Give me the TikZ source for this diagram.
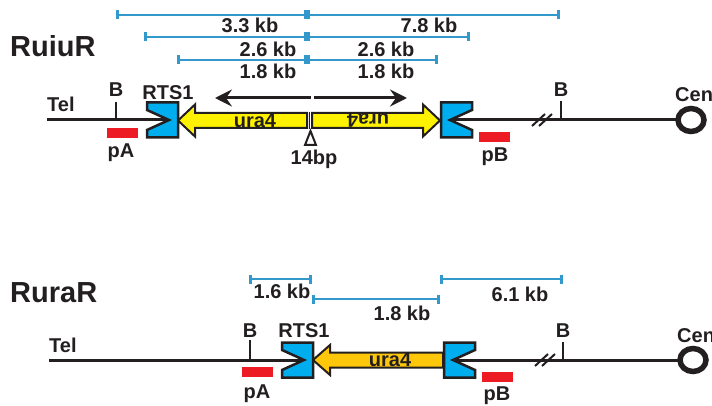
\documentclass[tikz,border=0pt]{standalone}
\usepackage{fontspec}
\setmainfont{Liberation Sans}
\usetikzlibrary{arrows.meta}

\definecolor{barblue}{RGB}{51,153,204}
\definecolor{rtsblue}{RGB}{0,174,239}
\definecolor{urayel}{RGB}{255,242,0}
\definecolor{uragold}{RGB}{255,199,10}
\definecolor{probered}{RGB}{237,28,36}
\definecolor{txt}{RGB}{35,31,32}

\tikzset{
  lbl/.style={text=txt, font=\bfseries\fontsize{20}{20}\selectfont, inner sep=0pt},
  ttl/.style={text=txt, font=\bfseries\fontsize{29}{29}\selectfont, inner sep=0pt},
  dna/.style={txt, line width=3pt},
  tick/.style={txt, line width=2.5pt},
  brk/.style={txt, line width=2pt},
  scalebar/.style={barblue, line width=2.8pt, {Bar[width=9pt]}-{Bar[width=9pt]}},
  probe/.style={fill=probered, draw=none},
  uraline/.style={draw=txt, line width=2pt, line join=miter},
  rtsshape/.style={fill=rtsblue, draw=txt, line width=2.5pt, line join=miter},
  rts/.pic={\draw[rtsshape] (0,-17.5) -- (31,-17.5) -- (31,17.5) -- (0,17.5)
    -- (0,10) -- (22,0) -- (0,-10) -- cycle;},
  dirarrow/.style={txt, line width=3pt, -{Stealth[length=17pt,width=17pt,inset=6pt]}},
}

\begin{document}
\begin{tikzpicture}[x=1pt,y=-1pt]
  \useasboundingbox (0,0) rectangle (712,406);

  % ---------- RuiuR ----------
  \node[ttl, anchor=base west] (ruiur) at (10,57) {RuiuR};

  % scale bars
  \coordinate (a1) at (116,15); \coordinate (a2) at (307,15); \coordinate (a3) at (560,15);
  \coordinate (b1) at (144,37); \coordinate (b2) at (307,37); \coordinate (b3) at (470,37);
  \coordinate (c1) at (177,60); \coordinate (c2) at (307,60); \coordinate (c3) at (438,60);
  \draw[scalebar] (a1) -- (a2); \draw[scalebar] (a2) -- (a3);
  \draw[scalebar] (b1) -- (b2); \draw[scalebar] (b2) -- (b3);
  \draw[scalebar] (c1) -- (c2); \draw[scalebar] (c2) -- (c3);
  \node[lbl, anchor=base] (kb33) at (250,33) {3.3 kb};
  \node[lbl, anchor=base] (kb78) at (429,33) {7.8 kb};
  \node[lbl, anchor=base] (kb26l) at (268,57) {2.6 kb};
  \node[lbl, anchor=base] (kb26r) at (386,57) {2.6 kb};
  \node[lbl, anchor=base] (kb18l) at (268,79) {1.8 kb};
  \node[lbl, anchor=base] (kb18r) at (386,79) {1.8 kb};

  % chromosome line
  \coordinate (telA) at (47,120); \coordinate (notchA) at (169,120);
  \coordinate (notchB) at (450,120); \coordinate (cenA) at (678,120);
  \draw[dna] (telA) -- (notchA);
  \draw[dna] (notchB) -- (cenA);
  \draw[tick] (116,102) -- (116,120);
  \draw[tick] (561,101) -- (561,120);
  \draw[brk] (532,126) -- (545,114);
  \draw[brk] (539,126) -- (552,114);
  \draw[txt, line width=5.5pt] (691,120) ellipse [x radius=13, y radius=11.5];

  % probes
  \fill[probe] (107,128) rectangle (138,138);
  \fill[probe] (479,132) rectangle (510,142);

  % inverted ura4 repeat
  \draw[uraline, fill=urayel] (178,120.5) -- (195,104.5) -- (195,113) -- (307,113)
    -- (307,128) -- (195,128) -- (195,136.5) -- cycle;
  \draw[uraline, fill=urayel] (440,120.5) -- (423,104.5) -- (423,113) -- (312,113)
    -- (312,128) -- (423,128) -- (423,136.5) -- cycle;
  \draw[txt, line width=1.2pt] (309.5,112) -- (309.5,129);
  \draw[txt, line width=2pt, fill=white, line join=miter] (310.5,131) -- (316,145) -- (305,145) -- cycle;
  \node[lbl] (uraL) at (255,120.5) {ura4};
  \node[lbl, rotate=180] (uraR) at (368,120.5) {ura4};

  % RTS1 boxes
  \pic at (147,120) {rts};
  \pic[xscale=-1] at (472,120) {rts};

  % replication direction
  \draw[dirarrow] (311,98) -- (215,98);
  \draw[dirarrow] (314,98) -- (407,98);

  % labels
  \node[lbl, anchor=base west] (telAl) at (47,112) {Tel};
  \node[lbl, anchor=base] (bA) at (116,97) {B};
  \node[lbl, anchor=base] (rtsA) at (168,100) {RTS1};
  \node[lbl, anchor=base] (bB) at (561,97) {B};
  \node[lbl, anchor=base west] (cenAl) at (675,102) {Cen};
  \node[lbl, anchor=base] (pA) at (121,158) {pA};
  \node[lbl, anchor=base] (pB) at (495,162) {pB};
  \node[lbl, anchor=base] (bp14) at (314,165) {14bp};

  % ---------- RuraR ----------
  \node[ttl, anchor=base west] (rurar) at (10,302) {RuraR};

  % scale bars
  \coordinate (d1) at (249,279); \coordinate (d2) at (312,279);
  \coordinate (e1) at (312,299); \coordinate (e2) at (440,299);
  \coordinate (f1) at (440,279); \coordinate (f2) at (563,279);
  \draw[scalebar] (d1) -- (d2);
  \draw[scalebar] (e1) -- (e2);
  \draw[scalebar] (f1) -- (f2);
  \node[lbl, anchor=base] (kb16) at (282,298) {1.6 kb};
  \node[lbl, anchor=base] (kb18) at (402,320) {1.8 kb};
  \node[lbl, anchor=base] (kb61) at (520,301) {6.1 kb};

  % chromosome line
  \coordinate (telB) at (49,360); \coordinate (notchC) at (304,360);
  \coordinate (notchD) at (453,360); \coordinate (cenB) at (680,360);
  \draw[dna] (telB) -- (notchC);
  \draw[dna] (notchD) -- (cenB);
  \draw[tick] (250,340) -- (250,360);
  \draw[tick] (563,342) -- (563,360);
  \draw[brk] (535,366) -- (548,354);
  \draw[brk] (542,366) -- (555,354);
  \draw[txt, line width=5.5pt] (693,360) ellipse [x radius=13, y radius=11.5];

  % probes
  \fill[probe] (242,367) rectangle (273,377);
  \fill[probe] (482,372) rectangle (513,382);

  % single ura4
  \draw[uraline, fill=uragold] (313,360) -- (330,345) -- (330,352.5) -- (443,352.5)
    -- (443,367.5) -- (330,367.5) -- (330,375) -- cycle;
  \node[lbl] (uraB) at (390,360) {ura4};

  % RTS1 boxes
  \pic at (282,360) {rts};
  \pic[xscale=-1] at (475,360) {rts};

  % labels
  \node[lbl, anchor=base west] (telBl) at (49,352) {Tel};
  \node[lbl, anchor=base] (bC) at (250,337) {B};
  \node[lbl, anchor=base] (rtsB) at (304,337) {RTS1};
  \node[lbl, anchor=base] (bD) at (563,337) {B};
  \node[lbl, anchor=base west] (cenBl) at (677,342) {Cen};
  \node[lbl, anchor=base] (pC) at (257,398) {pA};
  \node[lbl, anchor=base] (pD) at (497,400) {pB};

\end{tikzpicture}
\end{document}
